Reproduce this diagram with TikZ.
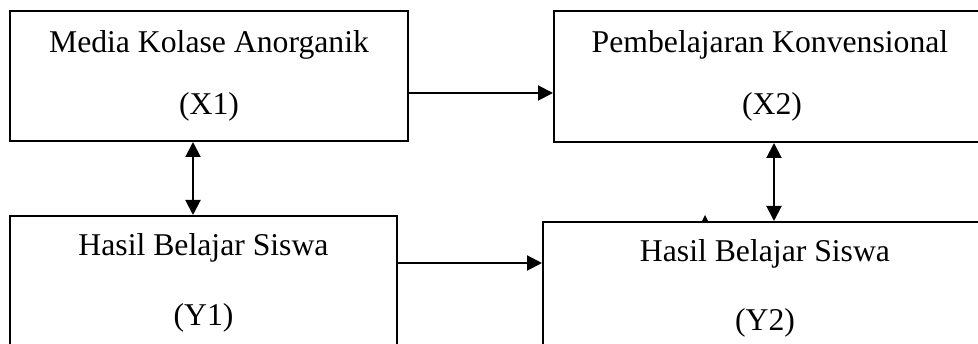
\documentclass[tikz,border=0pt]{standalone}
\usepackage{fontspec}
\setmainfont{Liberation Serif}
\usetikzlibrary{arrows.meta,calc}
\begin{document}
\begin{tikzpicture}[x=1pt,y=-1pt,
  box/.style={draw,line width=2pt,rectangle,inner sep=0pt},
  lbl/.style={anchor=base,inner sep=0pt,font=\fontsize{31.7}{38}\selectfont},
  conn/.style={line width=2pt,-{Triangle[length=15pt,width=15pt]}},
  dconn/.style={line width=2pt,{Triangle[length=15pt,width=15pt]}-{Triangle[length=15pt,width=15pt]}}]
\useasboundingbox (0,0) rectangle (978,344);
\clip (0,0) rectangle (978,344);
% boxes
\node[box,minimum width=398pt,minimum height=130pt] (X1) at (209,76) {};
\node[box,minimum width=432pt,minimum height=131pt] (X2) at (770,76.5) {};
\node[box,minimum width=387pt,minimum height=150pt] (Y1) at (203.5,291) {};
\node[box,minimum width=444pt,minimum height=150pt] (Y2) at (765,297) {};
% texts
\node[lbl] (tX1a) at (209,53) {Media Kolase Anorganik};
\node[lbl] (tX1b) at (209,115) {(X1)};
\node[lbl] (tX2a) at (770,53) {Pembelajaran Konvensional};
\node[lbl] (tX2b) at (772,115) {(X2)};
\node[lbl] (tY1a) at (203.5,256) {Hasil Belajar Siswa};
\node[lbl] (tY1b) at (203.5,326) {(Y1)};
\node[lbl] (tY2a) at (765,262) {Hasil Belajar Siswa};
\node[lbl] (tY2b) at (765,331) {(Y2)};
% connectors
\coordinate (a1) at ([yshift=-17pt]X1.east);
\draw[conn] (a1) -- (a1 -| X2.west);
\coordinate (a2) at ([xshift=-16pt]X1.south);
\draw[dconn] (a2) -- (a2 |- Y1.north);
\coordinate (a3) at ([xshift=4pt]X2.south);
\draw[dconn] (a3) -- (a3 |- Y2.north);
\coordinate (a4) at ([yshift=-48pt]Y1.north east);
\draw[conn] (a4) -- (a4 -| Y2.west);
% small tick above Y2
\coordinate (tk) at ([xshift=163pt]Y2.north west);
\fill (tk) ++(-3,0) -- ++(3,-6) -- ++(3,6) -- cycle;
\end{tikzpicture}
\end{document}
